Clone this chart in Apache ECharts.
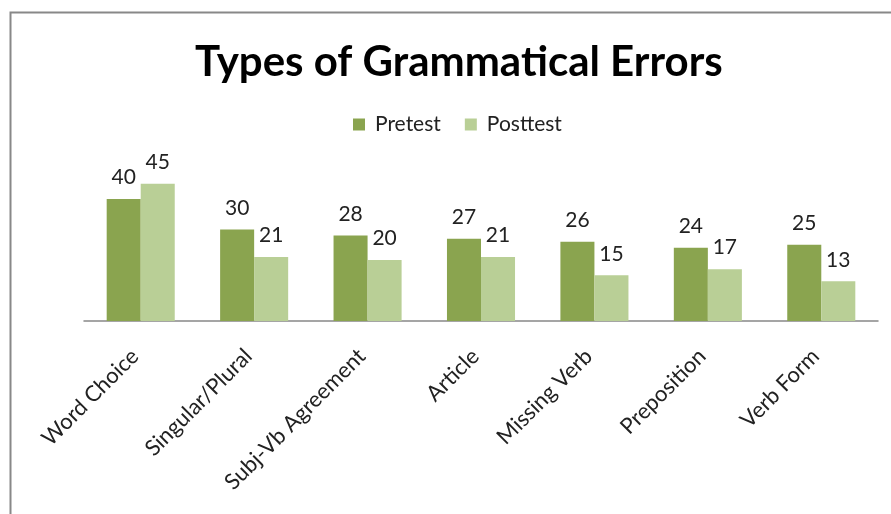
<!DOCTYPE html>
<html><head><meta charset="utf-8">
<script src="https://cdn.jsdelivr.net/npm/echarts@6/dist/echarts.min.js"></script>
<style>html,body{margin:0;padding:0;background:#fff}#c{width:891px;height:514px}</style>
</head><body><div id="c"></div>
<script>
const categories = ["Word Choice","Singular/Plural","Subj-Vb Agreement","Article","Missing Verb","Preposition","Verb Form"];
const pretest = [40,30,28,27,26,24,25];
const posttest = [45,21,20,21,15,17,13];
const seriesNames = ["Pretest","Posttest"];
const FONT = "Lato";
const chart = echarts.init(document.getElementById('c'));
chart.setOption({
  animation:false,
  backgroundColor:'#fff',
  graphic:[{type:'rect',shape:{x:10.5,y:12.5,width:1000,height:600},style:{fill:'none',stroke:'#888',lineWidth:2},silent:true}],
  title:{text:'Types of Grammatical Errors',left:190,top:36,
    textStyle:{fontFamily:FONT,fontWeight:'bold',fontSize:42,color:'#000'}},
  legend:{data:seriesNames,top:109,left:348,itemWidth:12,itemHeight:12,itemGap:24,icon:'rect',
    textStyle:{fontFamily:FONT,fontSize:21,color:'#222',padding:[0,0,0,5]}},
  grid:{left:84,right:13,top:138,bottom:193,containLabel:false},
  xAxis:{type:'category',data:categories,
    axisLine:{lineStyle:{color:'#888',width:1.5}},axisTick:{show:false},
    axisLabel:{rotate:45,interval:0,fontFamily:FONT,fontSize:22,color:'#222',margin:26,padding:[0,8,0,0]}},
  yAxis:{type:'value',min:0,max:60,show:false,splitLine:{show:false}},
  series:[
    {name:seriesNames[0],type:'bar',data:pretest,barGap:'0%',barCategoryGap:'40%',
      itemStyle:{color:'#8aa44f'},
      label:{show:true,position:'top',distance:11,fontFamily:FONT,fontSize:21,color:'#222'}},
    {name:seriesNames[1],type:'bar',data:posttest,
      itemStyle:{color:'#b9cf96'},
      label:{show:true,position:'top',distance:11,fontFamily:FONT,fontSize:21,color:'#222'}}
  ]
});
</script></body></html>
